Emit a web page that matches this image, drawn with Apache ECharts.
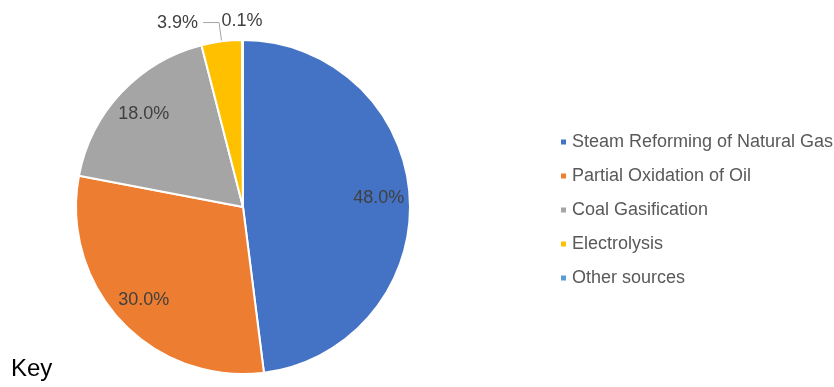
<!DOCTYPE html>
<html>
<head>
<meta charset="utf-8">
<title>Hydrogen production sources</title>
<script src="https://cdn.jsdelivr.net/npm/echarts@6/dist/echarts.min.js"></script>
<style>
  html, body { margin: 0; padding: 0; background: #ffffff; }
  #chart { width: 834px; height: 387px; }
</style>
</head>
<body>
<div id="chart"></div>
<script>
// Share of hydrogen production by source (percent)
const sources = [
  'Steam Reforming of Natural Gas',
  'Partial Oxidation of Oil',
  'Coal Gasification',
  'Electrolysis',
  'Other sources'
];
const shares = [48.0, 30.0, 18.0, 3.9, 0.1];
const sliceColors = ['#4472C4', '#ED7D31', '#A5A5A5', '#FFC000', '#5B9BD5'];
// Large slices carry their label inside; the thin ones get it outside
const labelInside = [true, true, true, false, false];
const leaderLine = [false, false, false, true, false];

const FONT = '"Liberation Sans", Arial, sans-serif';
const CENTER = [243, 207];
const R = 167;

const fmt = p => p.value.toFixed(1) + '%';

const mainData = sources.map((name, i) => ({
  name: name,
  value: shares[i],
  itemStyle: { color: sliceColors[i] },
  label: { show: !labelInside[i] },
  labelLine: { show: leaderLine[i] }
}));

// Transparent ring on top of the pie, used only to place the inside labels
const ringData = sources.map((name, i) => ({
  name: name,
  value: shares[i],
  label: { show: labelInside[i] }
}));

const chart = echarts.init(document.getElementById('chart'), null, { renderer: 'canvas' });

chart.setOption({
  animation: false,
  backgroundColor: '#ffffff',
  title: {
    text: 'Key',
    left: 11,
    top: 357,
    padding: 0,
    textStyle: { fontFamily: FONT, fontSize: 24, fontWeight: 'normal', color: '#000000' }
  },
  legend: {
    orient: 'vertical',
    left: 559,
    top: 133,
    padding: 0,
    icon: 'rect',
    itemWidth: 7,
    itemHeight: 7,
    itemGap: 16,
    data: sources,
    selectedMode: false,
    textStyle: { fontFamily: FONT, fontSize: 18, lineHeight: 18, color: '#595959', padding: [0, 0, 0, 0] }
  },
  series: [
    {
      type: 'pie',
      center: CENTER,
      radius: [0, R],
      startAngle: 90,
      clockwise: true,
      avoidLabelOverlap: false,
      emphasis: { disabled: true },
      itemStyle: { borderColor: '#ffffff', borderWidth: 2 },
      label: {
        position: 'outside',
        formatter: fmt,
        fontFamily: FONT,
        fontSize: 18,
        color: '#404040'
      },
      labelLine: {
        length: 19,
        length2: 16,
        lineStyle: { color: '#A6A6A6', width: 1 }
      },
      labelLayout: function (params) {
        // the tiny last slice sits just left of top; put its label to the right
        if (params.dataIndex === sources.length - 1) {
          return { dx: params.labelRect.width };
        }
        return {};
      },
      data: mainData
    },
    {
      type: 'pie',
      center: CENTER,
      radius: [99, R],
      startAngle: 90,
      clockwise: true,
      silent: true,
      avoidLabelOverlap: false,
      emphasis: { disabled: true },
      itemStyle: { color: 'rgba(0,0,0,0)', borderWidth: 0 },
      label: {
        position: 'inside',
        formatter: fmt,
        fontFamily: FONT,
        fontSize: 18,
        color: '#404040'
      },
      labelLine: { show: false },
      data: ringData
    }
  ]
});
</script>
</body>
</html>
